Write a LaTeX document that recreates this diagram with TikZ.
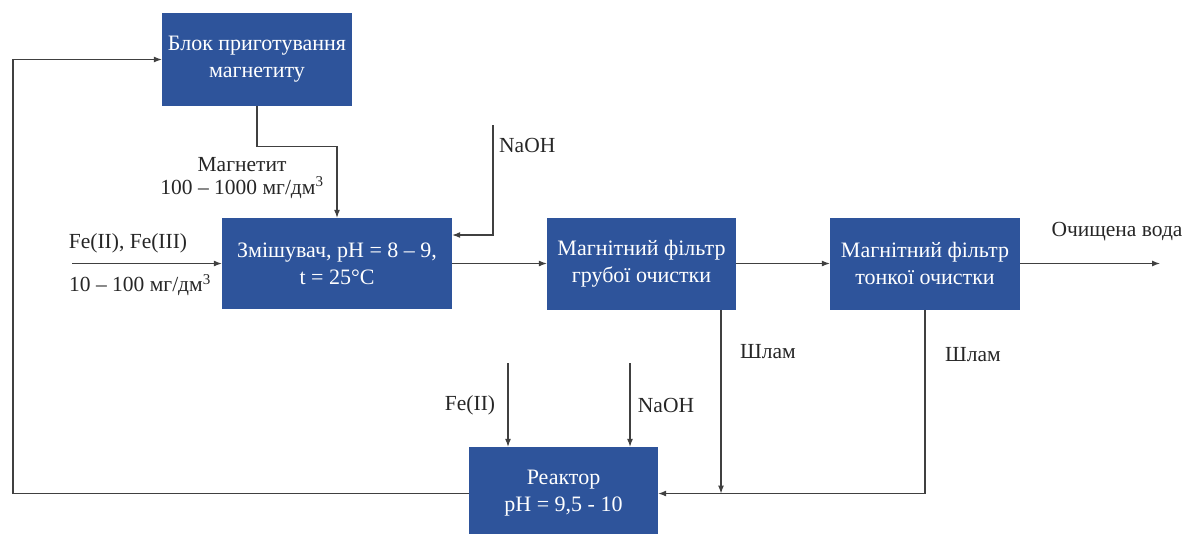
\documentclass[tikz,border=0pt]{standalone}
\usepackage{fontspec}
\setmainfont{Liberation Serif}
\usetikzlibrary{arrows.meta}
\definecolor{boxblue}{RGB}{46,84,155}

\begin{document}
\begin{tikzpicture}[
		x=1pt, y=-1pt,
		box/.style={rectangle, fill=boxblue, text=white, align=center, inner sep=0pt,
			font=\fontsize{22}{27}\selectfont},
		lbl/.style={text=black!85, align=center, inner sep=0pt,
			font=\fontsize{21.5}{23}\selectfont},
		flow/.style={draw=black!75, line width=1.1pt, -{Latex[length=8pt, width=6pt]}}
	]
  \useasboundingbox (0,0) rectangle (1190,533);
  \node (blok) [box, minimum width=190pt, minimum height=93pt] at (257, 59.5) {Блок приготування\\магнетиту};
  \node (mixer) [box, minimum width=230pt, minimum height=91pt] at (337, 263.5) {Змішувач, pH = 8 – 9,\\t = 25°C};
  \node (coarse) [box, minimum width=189pt, minimum height=92pt] at (641.5, 263.5) {Магнітний фільтр\\грубої очистки};
  \node (fine) [box, minimum width=190pt, minimum height=92pt] at (925, 263.5) {Магнітний фільтр\\тонкої очистки};
  \node (reactor) [box, minimum width=189pt, minimum height=93pt] at (563.5, 493.5) {Реактор\\pH = 9,5 - 10};
  \coordinate (loopx) at (13, 0);
  \coordinate (feed) at (72, 263.5);
  \coordinate (naoh1) at (493, 125);
  \coordinate (out) at (1160, 263.5);
  \coordinate (sludge1) at (721, 493.5);
  \coordinate (fe2) at (508, 363);
  \coordinate (naoh2) at (630, 363);
  \node (maglbl) [lbl] at (242, 178) {Магнетит\\100 – 1000 мг/дм\textsuperscript{3}};
  \node (naohlbl) [lbl, anchor=west] at (499, 145) {NaOH};
  \node (felbl) [lbl] at (128, 243) {Fe(II), Fe(III)};
  \node (conclbl) [lbl] at (140, 285) {10 – 100 мг/дм\textsuperscript{3}};
  \node (waterlbl) [lbl] at (1117, 232) {Очищена вода};
  \node (sludgelbl1) [lbl] at (768, 352) {Шлам};
  \node (sludgelbl2) [lbl] at (973, 355) {Шлам};
  \node (fe2lbl) [lbl] at (470, 405) {Fe(II)};
  \node (naohlbl2) [lbl] at (666, 405) {NaOH};
  \draw[flow] (reactor.west) -- (reactor.west -| loopx) |- (blok.west);
  \draw[flow] (blok.south) -- ++(0, 40) -| (mixer.north);
  \draw[flow] (naoh1) |- ([yshift=28.5pt]mixer.east);
  \draw[flow] (feed) -- (mixer);
  \draw[flow] (mixer) -- (coarse);
  \draw[flow] (coarse) -- (fine);
  \draw[flow] (fine) -- (out);
  \draw[flow] (coarse.south -| sludge1) -- (sludge1);
  \draw[flow] (fine.south) |- (reactor.east);
  \draw[flow] (fe2) -- (fe2 |- reactor.north);
  \draw[flow] (naoh2) -- (naoh2 |- reactor.north);
\end{tikzpicture}
\end{document}
